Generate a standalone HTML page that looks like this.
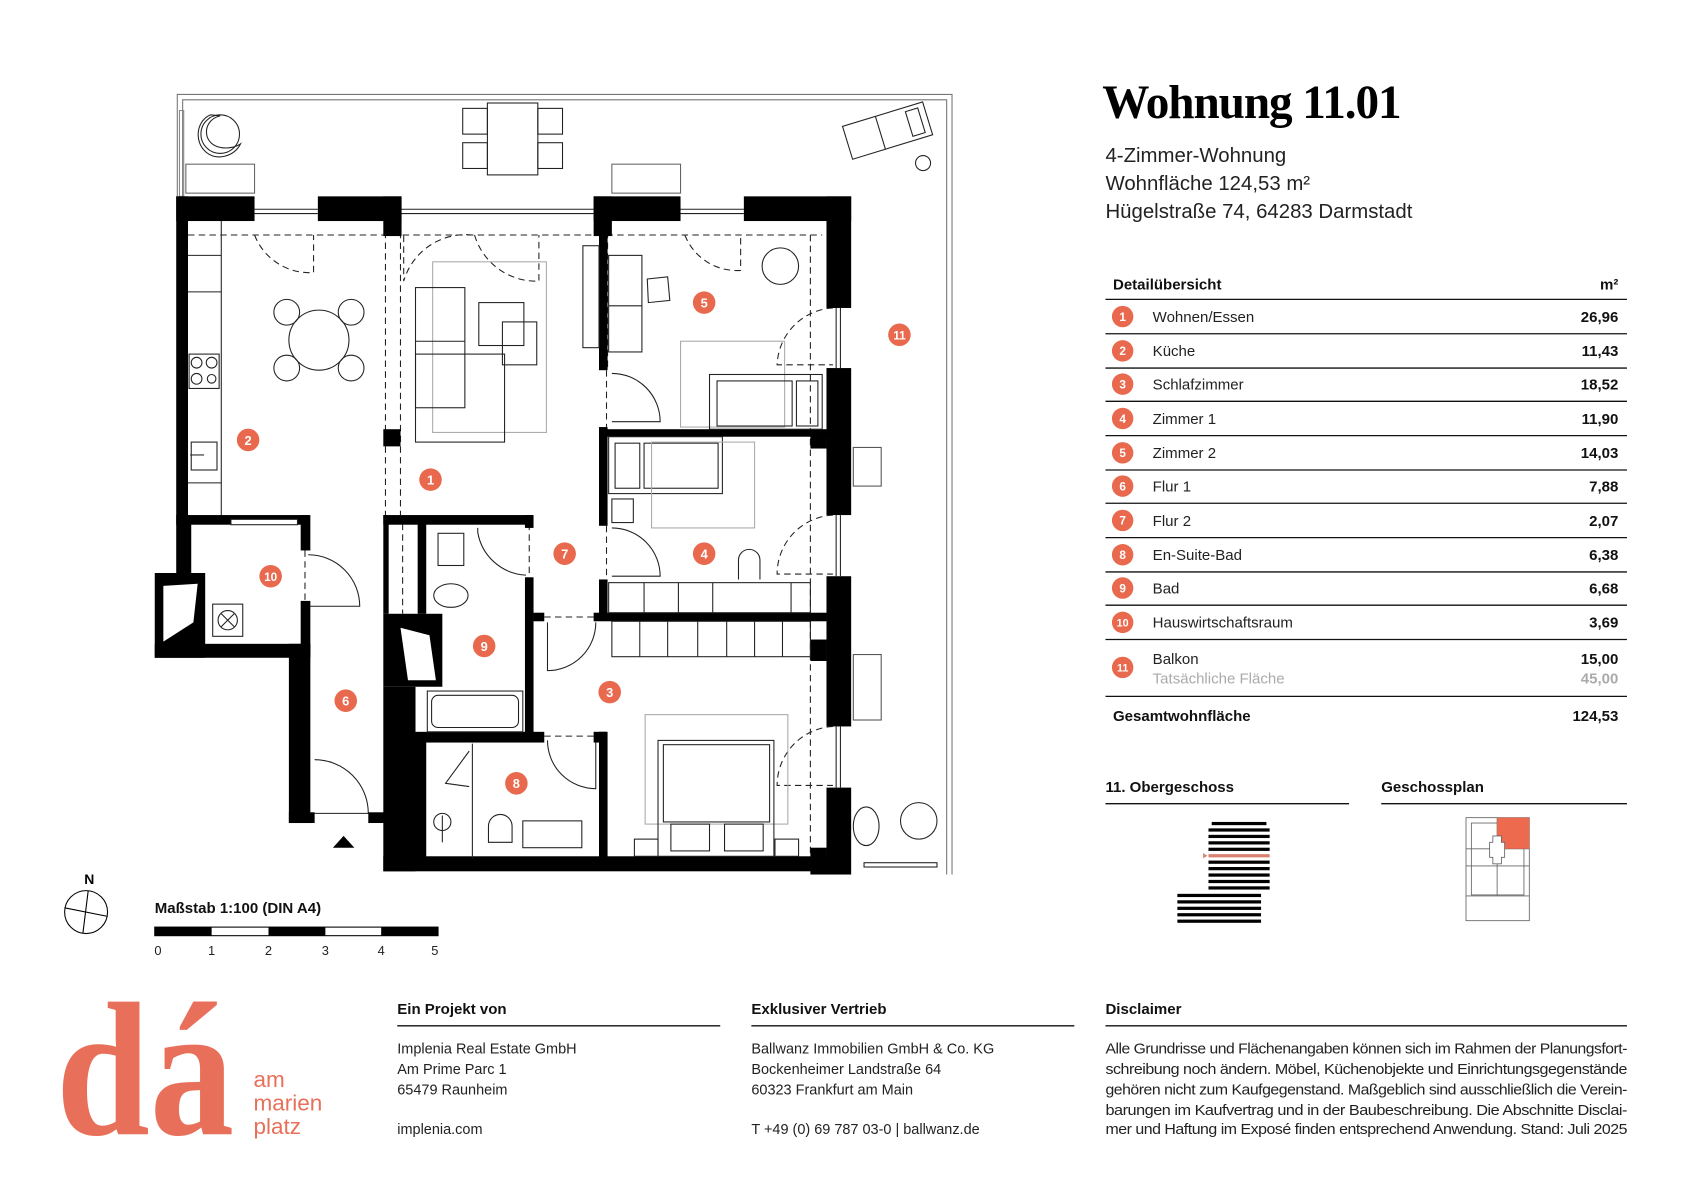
<!DOCTYPE html>
<html><head><meta charset="utf-8"><style>html,body{margin:0;padding:0;background:#fff}svg{display:block}</style></head><body>
<svg xmlns="http://www.w3.org/2000/svg" width="1683" height="1190" viewBox="0 0 1568 1109" font-family="Liberation Sans, sans-serif">
<rect width="1568" height="1109" fill="#fff"/>
<!-- balcony outline -->
<g fill="none" stroke="#777" stroke-width="1">
<polyline points="165,183 165,88 887,88 887,815"/>
<polyline points="170,183 170,93 882,93 882,815"/>
<rect x="167" y="103" width="4" height="80" stroke="#888"/>
</g>
<!-- balcony furniture -->
<g fill="none" stroke="#222" stroke-width="1">
<path d="M196,107 C183,112 180,132 192,142 C202,150 218,146 224,134 C215,140 198,140 193,128 C190,118 196,110 205,108 Z"/>
<circle cx="205" cy="125" r="18"/>
<rect x="173" y="153" width="64" height="27" stroke="#666"/>
<rect x="570" y="153" width="64" height="27" stroke="#666"/>
<rect x="454" y="96" width="47" height="67"/>
<rect x="431" y="101" width="23" height="24"/><rect x="431" y="133" width="23" height="24"/>
<rect x="501" y="101" width="23" height="24"/><rect x="501" y="133" width="23" height="24"/>
<g transform="rotate(-17 826 122)"><rect x="788" y="106" width="78" height="32"/><line x1="820" y1="106" x2="820" y2="138"/><rect x="848" y="110" width="12" height="24"/></g>
<circle cx="860" cy="152" r="7"/>
<rect x="795" y="417" width="26" height="36" stroke="#555"/>
<rect x="795" y="610" width="26" height="61" stroke="#555"/>
<ellipse cx="807" cy="770" rx="12" ry="18"/>
<circle cx="856" cy="765" r="17"/>
<rect x="805" y="804" width="68" height="4"/>
</g>
<!-- dashed lines -->
<g fill="none" stroke="#222" stroke-width="1" stroke-dasharray="6,4">
<line x1="175" y1="219" x2="766" y2="219"/>
<line x1="359" y1="206" x2="359" y2="480"/><line x1="373" y1="206" x2="373" y2="480"/>
<line x1="375" y1="488" x2="375" y2="572"/>
<line x1="565" y1="345" x2="565" y2="398"/><line x1="565" y1="490" x2="565" y2="540"/>
<line x1="566" y1="206" x2="566" y2="345"/>
<line x1="755" y1="219" x2="755" y2="800"/>
<line x1="507" y1="575" x2="553" y2="575"/><line x1="507" y1="686" x2="553" y2="686"/>
<line x1="493" y1="488" x2="493" y2="538"/>
<line x1="284" y1="513" x2="284" y2="560"/>
<path d="M237,219 A55,55 0 0 0 292,254 L292,219"/>
<path d="M440,219 A60,60 0 0 0 376,262 L376,219"/>
<path d="M442,219 A60,60 0 0 0 502,262 L502,219"/>
<path d="M638,219 A52,52 0 0 0 690,252 L690,219"/>
<path d="M776,287 A55,55 0 0 0 724,340 L776,340"/>
<path d="M776,480 A55,55 0 0 0 724,535 L776,535"/>
<path d="M776,677 A55,55 0 0 0 724,732 L776,732"/>
</g>
<!-- doors solid -->
<g fill="none" stroke="#222" stroke-width="1">
<path d="M287,517 A48,48 0 0 1 335,565 L287,565"/>
<path d="M293,708 A50,50 0 0 1 343,758 L293,758"/>
<path d="M570,348 A45,45 0 0 1 615,393 L570,393"/>
<path d="M570,492 A45,45 0 0 1 615,537 L570,537"/>
<path d="M445,492 L445,496 A48,48 0 0 0 490,536"/>
<path d="M510,580 L510,625 A45,45 0 0 0 555,580"/>
<path d="M510,690 A45,45 0 0 0 555,735 L555,690"/>
<path d="M437,700 L415,730 L437,733"/>
</g>
<!-- walls -->
<g fill="#000">
<rect x="164" y="183" width="73" height="23"/>
<rect x="296" y="183" width="78" height="23"/><rect x="357" y="183" width="17" height="37"/>
<rect x="553" y="183" width="81" height="23"/><rect x="553" y="183" width="17" height="37"/>
<rect x="693" y="183" width="100" height="23"/>
<rect x="770" y="183" width="23" height="104"/>
<rect x="770" y="343" width="23" height="137"/>
<rect x="770" y="537" width="23" height="140"/>
<rect x="770" y="734" width="23" height="81"/>
<rect x="755" y="402" width="15" height="16"/><rect x="755" y="596" width="15" height="20"/><rect x="755" y="790" width="15" height="25"/>
<rect x="164" y="183" width="11" height="305"/>
<rect x="164" y="480" width="123" height="9"/>
<rect x="164" y="488" width="14" height="46"/>
<rect x="280" y="480" width="9" height="33"/>
<rect x="280" y="560" width="9" height="50"/>
<rect x="144" y="534" width="47" height="79"/>
<rect x="144" y="600" width="145" height="13"/>
<rect x="269" y="600" width="20" height="167"/>
<rect x="269" y="757" width="24" height="10"/><rect x="343" y="757" width="16" height="10"/>
<rect x="357" y="400" width="16" height="16"/>
<rect x="357" y="480" width="139" height="9"/>
<rect x="357" y="480" width="5" height="92"/>
<rect x="389" y="488" width="8" height="84"/>
<rect x="489" y="480" width="8" height="12"/>
<rect x="489" y="538" width="8" height="152"/>
<rect x="357" y="572" width="55" height="68"/>
<rect x="357" y="640" width="30" height="172"/>
<rect x="387" y="682" width="120" height="10"/><rect x="553" y="682" width="12" height="10"/>
<rect x="387" y="685" width="10" height="120"/>
<rect x="558" y="206" width="8" height="139"/>
<rect x="558" y="398" width="8" height="92"/>
<rect x="558" y="540" width="8" height="38"/>
<rect x="558" y="400" width="212" height="7"/>
<rect x="497" y="571" width="10" height="8"/>
<rect x="553" y="571" width="217" height="8"/>
<rect x="558" y="682" width="8" height="124"/>
<rect x="357" y="798" width="413" height="14"/>
</g>
<g fill="#fff"><polygon points="152,546 184,544 180,580 152,598"/><polygon points="373,585 400,592 406,634 380,634"/></g>
<!-- window glazing -->
<g stroke="#222" stroke-width="1" fill="none">
<line x1="237" y1="195" x2="296" y2="195"/><line x1="237" y1="199" x2="296" y2="199"/>
<line x1="374" y1="195" x2="553" y2="195"/><line x1="374" y1="199" x2="553" y2="199"/>
<line x1="634" y1="195" x2="693" y2="195"/><line x1="634" y1="199" x2="693" y2="199"/>
<line x1="779" y1="287" x2="779" y2="343"/><line x1="783" y1="287" x2="783" y2="343"/>
<line x1="779" y1="480" x2="779" y2="537"/><line x1="783" y1="480" x2="783" y2="537"/>
<line x1="779" y1="677" x2="779" y2="734"/><line x1="783" y1="677" x2="783" y2="734"/>
<rect x="215" y="484" width="62" height="5" fill="#fff"/>
</g>
<!-- interior furniture -->
<g fill="none" stroke="#222" stroke-width="1">
<line x1="206" y1="206" x2="206" y2="480"/>
<line x1="175" y1="238" x2="206" y2="238"/><line x1="175" y1="272" x2="206" y2="272"/><line x1="175" y1="450" x2="206" y2="450"/>
<rect x="176" y="330" width="28" height="32"/>
<circle cx="183" cy="338" r="5"/><circle cx="197" cy="338" r="5"/><circle cx="183" cy="353" r="5"/><circle cx="197" cy="353" r="4"/>
<rect x="178" y="412" width="24" height="26"/><line x1="177" y1="424" x2="190" y2="424"/>
<circle cx="297" cy="317" r="28"/>
<circle cx="267" cy="291" r="12"/><circle cx="327" cy="291" r="12"/><circle cx="267" cy="343" r="12"/><circle cx="327" cy="343" r="12"/>
<rect x="403" y="244" width="106" height="159" stroke="#aaa"/>
<rect x="387" y="268" width="46" height="112"/><rect x="387" y="330" width="83" height="82"/><line x1="387" y1="318" x2="433" y2="318"/>
<rect x="446" y="282" width="42" height="40"/><rect x="468" y="300" width="32" height="40"/>
<rect x="543" y="229" width="15" height="95"/>
<rect x="567" y="238" width="31" height="90"/><line x1="567" y1="285" x2="598" y2="285"/>
<path d="M603,260 L622,258 L624,280 L604,282 Z"/>
<circle cx="727" cy="248" r="17"/>
<rect x="634" y="318" width="97" height="80" stroke="#aaa"/>
<rect x="661" y="349" width="105" height="51"/><rect x="668" y="355" width="70" height="42"/><rect x="742" y="355" width="20" height="42"/>
<rect x="567" y="407" width="106" height="53"/><rect x="573" y="413" width="23" height="42"/><rect x="600" y="413" width="69" height="42"/>
<rect x="607" y="412" width="96" height="80" stroke="#aaa"/>
<rect x="570" y="465" width="20" height="22"/>
<path d="M688,540 L688,522 A10,10 0 0 1 708,522 L708,540"/>
<rect x="567" y="543" width="188" height="28"/>
<line x1="600" y1="543" x2="600" y2="571"/><line x1="632" y1="543" x2="632" y2="571"/><line x1="664" y1="543" x2="664" y2="571"/><line x1="737" y1="543" x2="737" y2="571"/>
<rect x="570" y="579" width="185" height="33"/>
<line x1="596" y1="579" x2="596" y2="612"/><line x1="622" y1="579" x2="622" y2="612"/><line x1="650" y1="579" x2="650" y2="612"/><line x1="677" y1="579" x2="677" y2="612"/><line x1="703" y1="579" x2="703" y2="612"/><line x1="729" y1="579" x2="729" y2="612"/>
<rect x="601" y="666" width="133" height="102" stroke="#aaa"/>
<rect x="613" y="690" width="108" height="108"/><rect x="618" y="694" width="99" height="72"/>
<rect x="625" y="768" width="36" height="25"/><rect x="675" y="768" width="36" height="25"/>
<rect x="591" y="782" width="22" height="16"/><rect x="722" y="782" width="22" height="16"/>
<rect x="408" y="497" width="24" height="30"/><ellipse cx="420" cy="555" rx="16" ry="11"/>
<rect x="398" y="644" width="89" height="38"/><rect x="402" y="648" width="81" height="30" rx="6"/>
<circle cx="412" cy="766" r="8"/><line x1="412" y1="760" x2="412" y2="785"/>
<path d="M455,785 L455,770 A11,11 0 0 1 477,770 L477,785 Z"/>
<rect x="487" y="765" width="55" height="25"/>
<line x1="440" y1="693" x2="440" y2="800"/>
<rect x="198" y="563" width="28" height="30"/><circle cx="212" cy="578" r="9"/>
<line x1="206" y1="572" x2="218" y2="584"/><line x1="218" y1="572" x2="206" y2="584"/>
</g>
<polygon points="310,790 320,779 330,790" fill="#000"/>
<!-- room markers -->
<g fill="#e8694e">
<circle cx="401" cy="447" r="10.5"/><circle cx="231" cy="410" r="10.5"/><circle cx="568" cy="645" r="10.5"/>
<circle cx="656" cy="516" r="10.5"/><circle cx="656" cy="282" r="10.5"/><circle cx="322" cy="653" r="10.5"/>
<circle cx="526" cy="516" r="10.5"/><circle cx="481" cy="730" r="10.5"/><circle cx="451" cy="602" r="10.5"/>
<circle cx="252" cy="537" r="10.5"/><circle cx="838" cy="312" r="10.5"/>
</g>
<g fill="#fff" font-size="12" font-weight="bold" text-anchor="middle">
<text x="401" y="451.5">1</text><text x="231" y="414.5">2</text><text x="568" y="649.5">3</text>
<text x="656" y="520.5">4</text><text x="656" y="286.5">5</text><text x="322" y="657.5">6</text>
<text x="526" y="520.5">7</text><text x="481" y="734.5">8</text><text x="451" y="606.5">9</text>
<text x="252" y="541.5" font-size="11">10</text><text x="838" y="316.5" font-size="11">11</text>
</g>
<!-- north & scale -->
<text x="83" y="824" font-size="13" font-weight="bold" text-anchor="middle" fill="#000">N</text>
<circle cx="80" cy="850" r="20" fill="none" stroke="#000" stroke-width="1"/>
<line x1="82" y1="830" x2="77" y2="870" stroke="#000"/><line x1="60" y1="846" x2="100" y2="854" stroke="#000"/>
<text x="144" y="851" font-size="14" font-weight="bold" fill="#111">Maßstab 1:100 (DIN A4)</text>
<rect x="144" y="864" width="264" height="8" fill="#fff" stroke="#000"/>
<rect x="144" y="864" width="53" height="8" fill="#000"/><rect x="250" y="864" width="53" height="8" fill="#000"/><rect x="355" y="864" width="53" height="8" fill="#000"/>
<g font-size="12" fill="#222" text-anchor="middle"><text x="147" y="890">0</text><text x="197" y="890">1</text><text x="250" y="890">2</text><text x="303" y="890">3</text><text x="355" y="890">4</text><text x="405" y="890">5</text></g>
<!-- title -->
<text x="1027" y="110" font-family="Liberation Serif, serif" font-size="44" font-weight="bold" fill="#000" letter-spacing="-1">Wohnung 11.01</text>
<g font-size="19" fill="#222"><text x="1030" y="151">4-Zimmer-Wohnung</text><text x="1030" y="177">Wohnfläche 124,53 m²</text><text x="1030" y="203">Hügelstraße 74, 64283 Darmstadt</text></g>
<!-- table -->
<text x="1037" y="270" font-size="14" font-weight="bold" fill="#111">Detailübersicht</text>
<text x="1508" y="270" font-size="14" font-weight="bold" fill="#111" text-anchor="end">m²</text>
<g stroke="#111" stroke-width="1.2">
<line x1="1030" y1="279" x2="1516" y2="279"/><line x1="1030" y1="311" x2="1516" y2="311"/><line x1="1030" y1="343" x2="1516" y2="343"/><line x1="1030" y1="374" x2="1516" y2="374"/><line x1="1030" y1="406" x2="1516" y2="406"/><line x1="1030" y1="438" x2="1516" y2="438"/><line x1="1030" y1="469" x2="1516" y2="469"/><line x1="1030" y1="501" x2="1516" y2="501"/><line x1="1030" y1="533" x2="1516" y2="533"/><line x1="1030" y1="564" x2="1516" y2="564"/><line x1="1030" y1="596" x2="1516" y2="596"/><line x1="1030" y1="649" x2="1516" y2="649"/>
</g>
<g fill="#e8694e">
<circle cx="1046" cy="295" r="10"/><circle cx="1046" cy="327" r="10"/><circle cx="1046" cy="358" r="10"/><circle cx="1046" cy="390" r="10"/><circle cx="1046" cy="422" r="10"/><circle cx="1046" cy="453" r="10"/><circle cx="1046" cy="485" r="10"/><circle cx="1046" cy="517" r="10"/><circle cx="1046" cy="548" r="10"/><circle cx="1046" cy="580" r="10"/><circle cx="1046" cy="622" r="10"/>
</g>
<g fill="#fff" font-size="11" font-weight="bold" text-anchor="middle">
<text x="1046" y="299">1</text><text x="1046" y="331">2</text><text x="1046" y="362">3</text><text x="1046" y="394">4</text><text x="1046" y="426">5</text><text x="1046" y="457">6</text><text x="1046" y="489">7</text><text x="1046" y="521">8</text><text x="1046" y="552">9</text><text x="1046" y="584" font-size="10">10</text><text x="1046" y="626" font-size="10">11</text>
</g>
<g font-size="14" fill="#222">
<text x="1074" y="300">Wohnen/Essen</text><text x="1074" y="332">Küche</text><text x="1074" y="363">Schlafzimmer</text><text x="1074" y="395">Zimmer 1</text><text x="1074" y="427">Zimmer 2</text><text x="1074" y="458">Flur 1</text><text x="1074" y="490">Flur 2</text><text x="1074" y="522">En-Suite-Bad</text><text x="1074" y="553">Bad</text><text x="1074" y="585">Hauswirtschaftsraum</text><text x="1074" y="619">Balkon</text><text x="1074" y="637" fill="#aaa">Tatsächliche Fläche</text>
</g>
<g font-size="14" font-weight="bold" fill="#111" text-anchor="end">
<text x="1508" y="300">26,96</text><text x="1508" y="332">11,43</text><text x="1508" y="363">18,52</text><text x="1508" y="395">11,90</text><text x="1508" y="427">14,03</text><text x="1508" y="458">7,88</text><text x="1508" y="490">2,07</text><text x="1508" y="522">6,38</text><text x="1508" y="553">6,68</text><text x="1508" y="585">3,69</text><text x="1508" y="619">15,00</text><text x="1508" y="637" fill="#aaa">45,00</text><text x="1508" y="672">124,53</text>
</g>
<text x="1037" y="672" font-size="14" font-weight="bold" fill="#111">Gesamtwohnfläche</text>
<!-- floor info -->
<text x="1030" y="738" font-size="14" font-weight="bold" fill="#111">11. Obergeschoss</text>
<text x="1287" y="738" font-size="14" font-weight="bold" fill="#111">Geschossplan</text>
<line x1="1030" y1="749" x2="1257" y2="749" stroke="#111" stroke-width="1.2"/>
<line x1="1287" y1="749" x2="1516" y2="749" stroke="#111" stroke-width="1.2"/>
<g fill="#000">
<rect x="1129" y="766" width="51" height="3"/>
<rect x="1126" y="772" width="57" height="3"/><rect x="1126" y="778" width="57" height="3"/><rect x="1126" y="784" width="57" height="3"/><rect x="1126" y="790" width="57" height="3"/>
<rect x="1126" y="802" width="57" height="3"/><rect x="1126" y="808" width="57" height="3"/><rect x="1126" y="814" width="57" height="3"/><rect x="1126" y="820" width="57" height="3"/><rect x="1126" y="826" width="57" height="3"/>
<rect x="1097" y="833" width="78" height="3"/><rect x="1097" y="839" width="78" height="3"/><rect x="1097" y="845" width="78" height="3"/><rect x="1097" y="851" width="78" height="3"/><rect x="1097" y="857" width="78" height="3"/>
</g>
<rect x="1126" y="796" width="57" height="3" fill="#d9806e"/>
<polygon points="1121,795 1125,797.5 1121,800" fill="#d9806e"/>
<g fill="none" stroke="#666" stroke-width="0.8">
<rect x="1366" y="762" width="59" height="96"/>
<rect x="1371" y="767" width="49" height="67"/>
<line x1="1366" y1="791" x2="1425" y2="791"/><line x1="1366" y1="807" x2="1425" y2="807"/><line x1="1366" y1="835" x2="1425" y2="835"/>
<line x1="1395" y1="762" x2="1395" y2="835"/>
</g>
<rect x="1395" y="762" width="30" height="29" fill="#ee6a4e"/>
<path d="M1391,779 h8 v6 h3 v14 h-3 v6 h-8 v-6 h-3 v-14 h3 z" fill="#fff" stroke="#666" stroke-width="0.8"/>
<!-- footer -->
<text x="52" y="1057" font-family="Liberation Serif, serif" font-size="178" font-weight="bold" fill="#e8705a" textLength="166" lengthAdjust="spacingAndGlyphs">dá</text>
<g font-size="21" fill="#e8705a"><text x="236" y="1013">am</text><text x="236" y="1035">marien</text><text x="236" y="1057">platz</text></g>
<g font-size="14" font-weight="bold" fill="#111"><text x="370" y="945">Ein Projekt von</text><text x="700" y="945">Exklusiver Vertrieb</text><text x="1030" y="945">Disclaimer</text></g>
<g stroke="#111" stroke-width="1.2"><line x1="370" y1="956" x2="671" y2="956"/><line x1="700" y1="956" x2="1001" y2="956"/><line x1="1030" y1="956" x2="1516" y2="956"/></g>
<g font-size="13.5" fill="#222">
<text x="370" y="982">Implenia Real Estate GmbH</text><text x="370" y="1001">Am Prime Parc 1</text><text x="370" y="1020">65479 Raunheim</text><text x="370" y="1057">implenia.com</text>
<text x="700" y="982">Ballwanz Immobilien GmbH &amp; Co. KG</text><text x="700" y="1001">Bockenheimer Landstraße 64</text><text x="700" y="1020">60323 Frankfurt am Main</text><text x="700" y="1057">T +49 (0) 69 787 03-0 | ballwanz.de</text>
</g>
<g font-size="13.5" fill="#222" letter-spacing="-0.4">
<text x="1030" y="982" textLength="486" lengthAdjust="spacingAndGlyphs">Alle Grundrisse und Flächenangaben können sich im Rahmen der Planungsfort-</text>
<text x="1030" y="1001" textLength="486" lengthAdjust="spacingAndGlyphs">schreibung noch ändern. Möbel, Küchenobjekte und Einrichtungsgegenstände</text>
<text x="1030" y="1020" textLength="486" lengthAdjust="spacingAndGlyphs">gehören nicht zum Kaufgegenstand. Maßgeblich sind ausschließlich die Verein-</text>
<text x="1030" y="1039" textLength="486" lengthAdjust="spacingAndGlyphs">barungen im Kaufvertrag und in der Baubeschreibung. Die Abschnitte Disclai-</text>
<text x="1030" y="1057" textLength="486" lengthAdjust="spacingAndGlyphs">mer und Haftung im Exposé finden entsprechend Anwendung. Stand: Juli 2025</text>
</g>
</svg>
</body></html>
